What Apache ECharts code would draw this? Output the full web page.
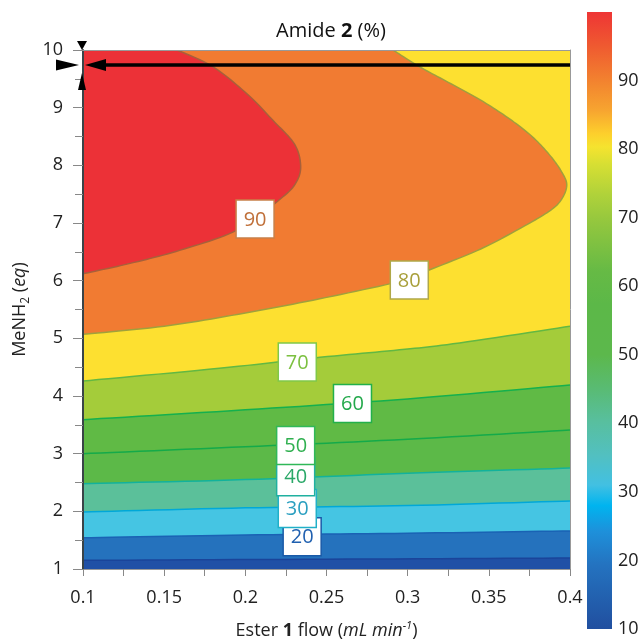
<!DOCTYPE html>
<html><head><meta charset="utf-8">
<script src="https://cdn.jsdelivr.net/npm/echarts@6/dist/echarts.min.js"></script>
<style>html,body{margin:0;padding:0;background:#fff}#c{width:640px;height:640px}</style>
</head><body><div id="c"></div>
<script>
// ---- data ----
const levels = [10, 20, 30, 40, 50, 60, 70, 80, 90];
const contour10 = [[0.1, 1.15], [0.25, 1.17], [0.4, 1.19]];
const contour20 = [[0.1, 1.54], [0.2, 1.59], [0.3, 1.62], [0.4, 1.66]];
const contour30 = [[0.1, 1.99], [0.2, 2.06], [0.3, 2.10], [0.4, 2.18]];
const contour40 = [[0.1, 2.48], [0.2, 2.55], [0.3, 2.66], [0.4, 2.75]];
const contour50 = [[0.1, 3.00], [0.2, 3.12], [0.3, 3.25], [0.4, 3.41]];
const contour60 = [[0.1, 3.59], [0.2, 3.76], [0.3, 3.95], [0.4, 4.19]];
const contour70 = [[0.1, 4.26], [0.184, 4.48], [0.246, 4.67], [0.295, 4.80], [0.332, 4.92], [0.4, 5.21]];
const contour80 = [[0.291, 10], [0.306, 9.73], [0.325, 9.44], [0.345, 9.13], [0.363, 8.80], [0.377, 8.49],
  [0.388, 8.16], [0.395, 7.88], [0.398, 7.66], [0.395, 7.42], [0.388, 7.22], [0.372, 6.95], [0.345, 6.55],
  [0.312, 6.17], [0.3, 6.02], [0.25, 5.71], [0.2, 5.44], [0.15, 5.21], [0.1, 5.07]];
const contour90 = [[0.158, 10], [0.180, 9.71], [0.201, 9.24], [0.217, 8.78], [0.230, 8.38], [0.234, 8.03],
  [0.232, 7.74], [0.223, 7.45], [0.195, 6.88], [0.160, 6.53], [0.129, 6.30], [0.1, 6.12]];
// label positions for levels 20..90 (level 10 has no label)
const labelLevels = [20, 30, 40, 50, 60, 70, 80, 90];
const contourLabelPos = [[0.235, 1.56], [0.232, 2.05], [0.231, 2.60], [0.231, 3.14], [0.266, 3.87],
  [0.232, 4.59], [0.301, 6.01], [0.206, 7.07]];
const optimumPoint = [0.1, 9.74];
const arrowStart = [0.4, 9.74];
const xTicks = [0.1, 0.4, 0.05];   // min, max, step
const yTicks = [1, 10, 1];
const colorbarTicks = [10, 100, 10];
const colorbarValues = [10, 19.4, 24.2, 28, 31, 35.4, 40.3, 45.2, 50, 57.4, 62.2, 69.5, 73.4, 77.8, 80.3, 82.2, 85.6, 89, 95, 100];

// ---- styles ----
const colorbarColors = ['#214f9f', '#2473c0', '#1e90da', '#00b4ef', '#42c0e2', '#52c0c0', '#58bf9e', '#59bb72',
  '#5cb84c', '#5cb848', '#66ba45', '#94c73e', '#b0d23a', '#d7df33', '#f5e32f', '#fdd02c', '#f7a530', '#f38a2f', '#ef5a30', '#ee3535'];
const baseColor = '#2050a6';
const bandColors = ['#2572bd', '#45c5e3', '#5bc09a', '#5cb948', '#60ba45', '#a4cc3a', '#fde030', '#f17b32', '#ec3137'];
const lineColors = ['#1a449a', '#1a62b4', '#00a8d8', '#12b29c', '#14aa4a', '#14b04e', '#62b842', '#a0a03c', '#a8603a'];
const labelTextColors = ['#2060b0', '#2a9fc0', '#2aa868', '#30b050', '#22a84a', '#7cc040', '#a89f3a', '#c0703a'];
const labelBorderColors = ['#1a5aa8', '#20b0c8', '#20b0a0', '#30b858', '#22b04a', '#80c848', '#b0a848', '#c8804a'];
const FONT = 'Open Sans';

const contours = [contour10, contour20, contour30, contour40, contour50, contour60, contour70, contour80, contour90];

function spline(pts, n) {
  if (pts.length < 3) return pts.slice();
  const out = [];
  for (let i = 0; i < pts.length - 1; i++) {
    const p0 = pts[Math.max(i - 1, 0)], p1 = pts[i], p2 = pts[i + 1], p3 = pts[Math.min(i + 2, pts.length - 1)];
    for (let k = 0; k < n; k++) {
      const s = k / n, s2 = s * s, s3 = s2 * s;
      const f = (a, b, c, d) => 0.5 * (2 * b + (-a + c) * s + (2 * a - 5 * b + 4 * c - d) * s2 + (-a + 3 * b - 3 * c + d) * s3);
      out.push([f(p0[0], p1[0], p2[0], p3[0]), f(p0[1], p1[1], p2[1], p3[1])]);
    }
  }
  out.push(pts[pts.length - 1]);
  return out;
}

const xMin = xTicks[0], xMax = xTicks[1], yMin = yTicks[0], yMax = yTicks[1];

function renderFill(params, api) {
  const i = params.dataIndex;
  const c = contours[i];
  const curve = spline(c.map(p => api.coord(p)), 12);
  const last = c[c.length - 1];
  const closing = last[0] >= xMax - 1e-9 ? [[xMax, yMax], [xMin, yMax]] : [[xMin, yMax]];
  const poly = curve.concat(closing.map(p => api.coord(p)));
  return {
    type: 'group',
    children: [
      { type: 'polygon', shape: { points: poly }, style: { fill: bandColors[i], stroke: null } },
      { type: 'polyline', shape: { points: curve }, style: { stroke: lineColors[i], lineWidth: 1.5, fill: null } }
    ]
  };
}

function renderLabel(params, api) {
  const i = params.dataIndex;
  const c = api.coord(contourLabelPos[i]);
  return {
    type: 'group',
    children: [
      { type: 'rect', shape: { x: c[0] - 19, y: c[1] - 19, width: 38, height: 38 },
        style: { fill: '#fff', stroke: labelBorderColors[i], lineWidth: 1.5 } },
      { type: 'text', x: c[0], y: c[1] + 1,
        style: { text: String(labelLevels[i]), fill: labelTextColors[i], fontSize: 20, fontFamily: FONT,
          align: 'center', verticalAlign: 'middle' } }
    ]
  };
}

function renderMarker(params, api) {
  const o = api.coord(optimumPoint);
  const s = api.coord(arrowStart);
  const t = api.coord([optimumPoint[0], yMax]);
  return {
    type: 'group',
    children: [
      { type: 'line', shape: { x1: s[0], y1: s[1], x2: o[0] + 18, y2: o[1] }, style: { stroke: '#000', lineWidth: 3.5 } },
      { type: 'polygon', shape: { points: [[o[0] + 2, o[1]], [o[0] + 23, o[1] - 6], [o[0] + 23, o[1] + 6]] }, style: { fill: '#000' } },
      { type: 'polygon', shape: { points: [[o[0] - 4, o[1]], [o[0] - 27, o[1] - 5.5], [o[0] - 27, o[1] + 5.5]] }, style: { fill: '#000' } },
      { type: 'polygon', shape: { points: [[t[0] - 1, t[1]], [t[0] - 6, t[1] - 9], [t[0] + 4, t[1] - 9]] }, style: { fill: '#000' } },
      { type: 'polygon', shape: { points: [[o[0] - 1, o[1] + 8], [o[0] - 5, o[1] + 25], [o[0] + 3, o[1] + 25]] }, style: { fill: '#000' } }
    ]
  };
}

function renderColorbar(params, api) {
  const a = api.coord([0, colorbarTicks[1]]);
  const b = api.coord([1, colorbarTicks[0]]);
  const span = colorbarTicks[1] - colorbarTicks[0];
  const stops = colorbarValues.map((v, i) => ({ offset: (colorbarTicks[1] - v) / span, color: colorbarColors[i] }))
    .sort((p, q) => p.offset - q.offset);
  return {
    type: 'rect', shape: { x: a[0], y: a[1], width: b[0] - a[0], height: b[1] - a[1] },
    style: { fill: { type: 'linear', x: 0, y: 0, x2: 0, y2: 1, colorStops: stops } }
  };
}

const xFmt = v => String(Math.round(v * 1000) / 1000);

const chart = echarts.init(document.getElementById('c'), null, { renderer: 'canvas' });
chart.setOption({
  animation: false,
  backgroundColor: '#fff',
  title: {
    text: 'Amide {b|2} (%)', left: 326, top: 16, textAlign: 'center',
    textStyle: { fontSize: 20, fontWeight: 'normal', color: '#111', fontFamily: FONT,
      rich: { b: { fontSize: 20, fontWeight: 'bold', color: '#111', fontFamily: FONT } } }
  },
  grid: [
    { left: 83, right: 70, top: 50, bottom: 71, show: true, backgroundColor: baseColor, borderWidth: 0,
      containLabel: false, outerBoundsMode: 'none' },
    { left: 587, width: 25, top: 12, bottom: 11, containLabel: false, outerBoundsMode: 'none' }
  ],
  xAxis: [
    { gridIndex: 0, type: 'value', min: xTicks[0], max: xTicks[1], interval: xTicks[2], position: 'bottom', z: 10,
      axisLine: { lineStyle: { color: '#999', width: 1 } },
      axisTick: { length: 7, lineStyle: { color: '#888' } },
      minorTick: { show: true, splitNumber: 2, length: 7, lineStyle: { color: '#888' } },
      splitLine: { show: false },
      axisLabel: { fontSize: 18, color: '#222', margin: 20, fontFamily: FONT, formatter: xFmt },
      name: 'Ester {b|1} flow ({i|mL min}{sup|-1})', nameLocation: 'middle', nameGap: 51,
      nameTextStyle: { fontSize: 18, color: '#222', fontFamily: FONT,
        rich: { b: { fontSize: 18, fontWeight: 'bold', color: '#222', fontFamily: FONT },
          i: { fontSize: 18, fontStyle: 'italic', color: '#222', fontFamily: FONT },
          sup: { fontSize: 11, fontStyle: 'italic', color: '#222', fontFamily: FONT, verticalAlign: 'top', padding: [0, 0, 10, 0] } } } },
    { gridIndex: 0, type: 'value', min: xTicks[0], max: xTicks[1], position: 'top', z: 10,
      axisLine: { lineStyle: { color: '#999', width: 1 } }, axisTick: { show: false }, axisLabel: { show: false }, splitLine: { show: false } },
    { gridIndex: 1, type: 'value', min: 0, max: 1, show: false }
  ],
  yAxis: [
    { gridIndex: 0, type: 'value', min: yTicks[0], max: yTicks[1], interval: yTicks[2], position: 'left', z: 10,
      axisLine: { lineStyle: { color: '#3a4448', width: 2 } },
      axisTick: { length: 10, lineStyle: { color: '#888' } },
      minorTick: { show: true, splitNumber: 2, length: 8, lineStyle: { color: '#888' } },
      splitLine: { show: false },
      axisLabel: { fontSize: 18, color: '#222', margin: 20, fontFamily: FONT },
      name: 'MeNH{sub|2} ({i|eq})', nameLocation: 'middle', nameGap: 38, nameRotate: 90,
      nameTextStyle: { fontSize: 18, color: '#222', fontFamily: FONT,
        rich: { sub: { fontSize: 12, color: '#222', fontFamily: FONT, verticalAlign: 'bottom', padding: [12, 0, 0, 0] },
          i: { fontSize: 18, fontStyle: 'italic', color: '#222', fontFamily: FONT } } } },
    { gridIndex: 0, type: 'value', min: yTicks[0], max: yTicks[1], position: 'right', z: 10,
      axisLine: { lineStyle: { color: '#999', width: 1 } }, axisTick: { show: false }, axisLabel: { show: false }, splitLine: { show: false } },
    { gridIndex: 1, type: 'value', min: colorbarTicks[0], max: colorbarTicks[1], interval: colorbarTicks[2], position: 'right',
      axisLine: { show: false }, axisTick: { show: false }, splitLine: { show: false },
      axisLabel: { fontSize: 18, color: '#222', margin: 6, fontFamily: FONT, showMaxLabel: false } }
  ],
  series: [
    { type: 'custom', xAxisIndex: 0, yAxisIndex: 0, clip: true, z: 2, renderItem: renderFill,
      data: levels.map(l => [l]), silent: true },
    { type: 'custom', xAxisIndex: 0, yAxisIndex: 0, z: 5, renderItem: renderLabel,
      data: labelLevels.map(l => [l]), silent: true },
    { type: 'custom', xAxisIndex: 0, yAxisIndex: 0, z: 12, renderItem: renderMarker,
      data: [optimumPoint], silent: true },
    { type: 'custom', xAxisIndex: 2, yAxisIndex: 2, renderItem: renderColorbar,
      data: [[0]], silent: true }
  ]
});
</script></body></html>
